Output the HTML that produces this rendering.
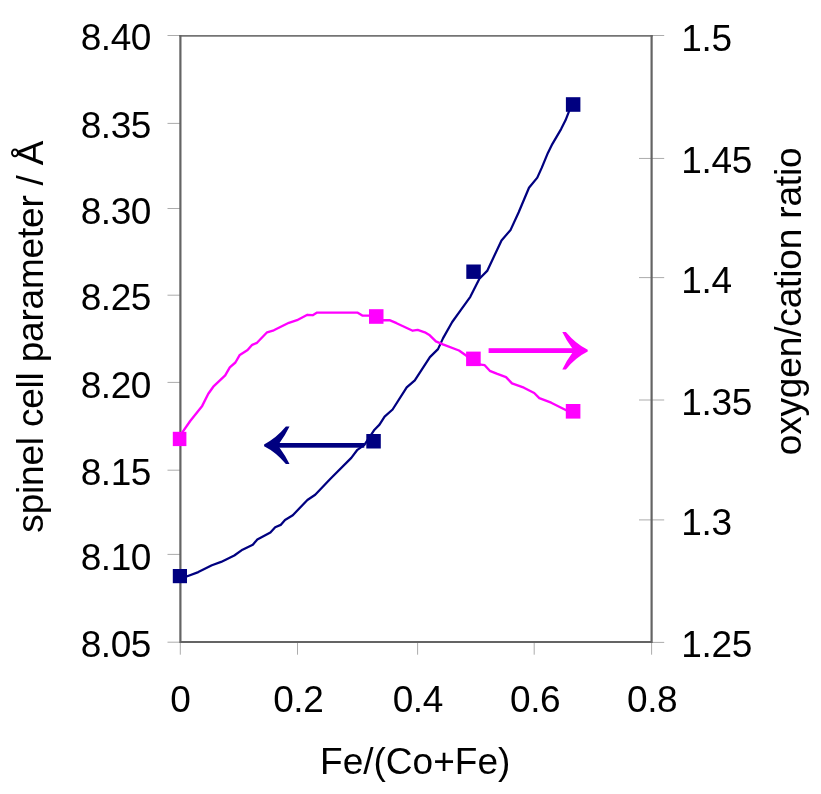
<!DOCTYPE html>
<html><head><meta charset="utf-8">
<style>
html,body{margin:0;padding:0;background:#fff;}
svg{display:block;}
text{font-family:"Liberation Sans",Arial,sans-serif;fill:#000;}
</style></head>
<body>
<svg width="821" height="794" viewBox="0 0 821 794">
<rect width="821" height="794" fill="#fff"/>
<!-- ticks -->
<g stroke="#acacac" stroke-width="1" fill="none">
  <path d="M167.5 35.5H181M167.5 123.4H181M167.5 208.5H181M167.5 295.2H181M167.5 382.4H181M167.5 470.2H181M167.5 554.4H181M167.5 642.2H181"/>
  <path d="M639 35.5H664.2M639 158.45H664.2M639 277.6H664.2M639 400H664.2M639 519.9H664.2M639 642.4H664.2"/>
  <path d="M180.3 642V654.7M297.5 642V654.7M417.6 642V654.7M534.2 642V654.7M651.6 642V654.7"/>
</g>
<!-- plot frame -->
<path d="M179.3 35.8H652.7" fill="none" stroke="#747474" stroke-width="1.8"/>
<path d="M180.4 34.9V642H651.6V34.9" fill="none" stroke="#646464" stroke-width="2.2" stroke-linejoin="miter" stroke-linecap="butt"/>
<!-- blue curve -->
<polyline points="180.0,576.3 186.6,576.5 198.3,572.1 211.9,565.2 221.1,561.9 234.3,555.5 242.5,549.7 252.8,544.8 257.3,539.5 270.4,532.5 275.2,527.2 280.7,524.9 285.0,520.0 292.8,515.2 307.4,500.0 315.2,494.7 330.2,479.0 351.3,457.9 357.4,449.8 364.4,444.8 374.5,429.7 379.5,424.6 384.6,416.6 392.6,409.5 406.7,387.4 414.8,380.3 429.9,357.1 438.0,349.1 443.1,338.1 452.2,322.0 460.2,310.9 470.3,296.8 479.4,278.7 487.4,270.6 501.5,240.4 510.6,229.9 518.7,212.2 529.0,187.8 537.3,177.6 541.7,167.9 547.9,152.9 552.3,144.1 561.1,129.1 565.5,120.3 569.0,111.4 571.5,106.0" fill="none" stroke="#000080" stroke-width="2.25" stroke-linejoin="round"/>
<!-- pink curve -->
<polyline points="180.0,436.0 182.5,432.1 190.2,421.0 202.2,405.9 208.3,393.8 213.3,386.7 225.2,375.4 229.8,367.4 235.4,362.5 239.8,354.9 247.6,350.0 252.2,344.8 257.0,342.8 267.1,332.3 273.8,330.3 288.9,322.8 297.0,320.2 307.4,314.8 312.7,315.2 317.1,312.6 357.3,312.6 362.3,315.6 372.0,315.6 380.0,320.2 389.5,320.2 396.6,323.2 412.7,330.7 417.7,329.9 424.8,332.3 429.8,335.3 435.9,341.4 442.9,344.4 459.0,350.5 466.1,355.5 473.0,361.0 480.8,364.7 484.7,365.2 489.8,370.8 496.7,373.7 506.0,377.1 512.0,383.4 523.9,387.7 534.2,393.0 539.3,398.1 551.2,402.7 565.7,410.0 572.0,411.0" fill="none" stroke="#ff00ff" stroke-width="2.35" stroke-linejoin="round"/>
<!-- markers -->
<g fill="#000080">
  <rect x="172.8" y="569" width="14.2" height="14.2"/>
  <rect x="366.3" y="434" width="14.5" height="14.5"/>
  <rect x="466.3" y="264.5" width="14.5" height="14.4"/>
  <rect x="565.9" y="97.2" width="14.5" height="14.6"/>
</g>
<g fill="#ff00ff">
  <rect x="172.8" y="431.8" width="13.6" height="14.3"/>
  <rect x="369" y="309.2" width="14.5" height="14.6"/>
  <rect x="466.1" y="351.6" width="14.6" height="14.5"/>
  <rect x="565.8" y="404" width="14.6" height="14.6"/>
</g>
<!-- arrows -->
<g fill="#000080">
  <rect x="277.5" y="443" width="86.8" height="4.7"/>
  <path d="M264.1 444.4 Q 276 438.5, 285.9 426.6 H 289.5 Q 285.5 435, 279.4 443.2 V 447.5 Q 285.5 455.7, 289.5 464.1 H 285.9 Q 276 452.2, 264.1 446.3 Z"/>
</g>
<g fill="#ff00ff">
  <rect x="488.6" y="348.2" width="86" height="4.8"/>
  <path d="M587.7 349.7 Q 575.8 343.8, 565.9 331.9 H 562.3 Q 566.3 340.3, 572.4 348.5 V 352.8 Q 566.3 361, 562.3 369.4 H 565.9 Q 575.8 357.5, 587.7 351.6 Z"/>
</g>
<!-- left axis labels -->
<g font-size="37" text-anchor="end" letter-spacing="-0.45">
  <text x="150.9" y="50.2">8.40</text>
  <text x="150.9" y="138.1">8.35</text>
  <text x="150.9" y="223.5">8.30</text>
  <text x="150.9" y="309.8">8.25</text>
  <text x="150.9" y="397.8">8.20</text>
  <text x="150.9" y="484.8">8.15</text>
  <text x="150.9" y="569.8">8.10</text>
  <text x="150.9" y="657.3">8.05</text>
</g>
<!-- right axis labels -->
<g font-size="37" text-anchor="start" letter-spacing="-0.35">
  <text x="681.3" y="50.7">1.5</text>
  <text x="681.3" y="172.9">1.45</text>
  <text x="681.3" y="292.9">1.4</text>
  <text x="681.3" y="415.2">1.35</text>
  <text x="681.3" y="535.3">1.3</text>
  <text x="681.3" y="657.0">1.25</text>
</g>
<!-- x axis labels -->
<g font-size="37" text-anchor="middle">
  <text x="180.6" y="712">0</text>
  <text x="298.3" y="712" letter-spacing="-0.4">0.2</text>
  <text x="417.8" y="712" letter-spacing="-0.4">0.4</text>
  <text x="535.2" y="712" letter-spacing="-0.4">0.6</text>
  <text x="652.2" y="712" letter-spacing="-0.4">0.8</text>
  <text x="415.2" y="774">Fe/(Co+Fe)</text>
</g>
<text transform="translate(43,336.7) rotate(-90)" font-size="37" text-anchor="middle" letter-spacing="-0.2">spinel cell parameter / Å</text>
<text transform="translate(801.4,301.4) rotate(-90)" font-size="37" text-anchor="middle" letter-spacing="-0.15">oxygen/cation ratio</text>
</svg>
</body></html>
